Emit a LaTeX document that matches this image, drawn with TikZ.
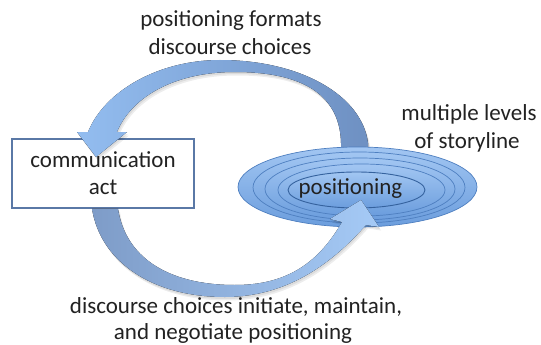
\documentclass[tikz,border=0pt]{standalone}
\usepackage{fontspec}
\setmainfont{Carlito}
\definecolor{boxline}{HTML}{5A78A6}
\definecolor{ringtop}{HTML}{A2C6F2}
\definecolor{ringbot}{HTML}{6B9DDD}
\definecolor{ringline}{HTML}{4E7FC0}
\definecolor{innerline}{HTML}{35629E}
\definecolor{txt}{HTML}{222222}
\definecolor{tarL}{HTML}{93BDF0}
\definecolor{tarM}{HTML}{5C8FD2}
\definecolor{tarR}{HTML}{6E90C2}
\definecolor{barL}{HTML}{7E9CC8}
\definecolor{barM}{HTML}{5A8BD0}
\definecolor{barR}{HTML}{A5CAF6}
\def\TopArrowPath{(369,168) -- (368,143) .. controls (362,95) and (300,60) .. (220,60) .. controls (160,60) and (105,90) .. (88,132) -- (77,132) -- (96,157) -- (127,132) -- (117,132) .. controls (130,100) and (170,72) .. (235,72) .. controls (310,72) and (340,100) .. (341,143) -- (341,168) -- cycle}
\def\BottomArrowPath{(92,208.6) .. controls (100,260) and (150,297) .. (225,297) .. controls (290,297) and (335,260) .. (366,225) -- (379,227) -- (361,200) -- (330,219) -- (342,222) .. controls (320,260) and (290,285) .. (235,285) .. controls (165,285) and (125,255) .. (118,208.6) -- cycle}
\begin{document}
\begin{tikzpicture}[x=1pt,y=-1pt,
  lbl/.style={font=\fontsize{23}{28}\selectfont, text=txt, anchor=base, inner sep=0pt},
  actbox/.style={draw=boxline, line width=1.1pt, fill=white, minimum width=182pt, minimum height=69pt, inner sep=0pt, align=center, font=\fontsize{23}{27}\selectfont, text=txt},
  ring/.style={draw=ringline, line width=0.7pt, top color=ringtop, bottom color=ringbot},
  shadowfill/.style={fill=black, opacity=0.07},
  toparrow/.style={left color=tarL, middle color=tarM, right color=tarR},
  bottomarrow/.style={left color=barL, middle color=barM, right color=barR},
]
\useasboundingbox (0,0) rectangle (541,345);
\fill[white] (0,0) rectangle (541,345);
% communication act box
\node[actbox] (act) at (103,173.5) {communication\\act};
% top arrow
\fill[shadowfill, xshift=1pt, yshift=-2pt] \TopArrowPath;
\fill[shadowfill, xshift=2pt, yshift=-3.5pt] \TopArrowPath;
\fill[toparrow] \TopArrowPath;
% positioning rings
\path[ring] (357.5,187) ellipse [x radius=119.5, y radius=40];
\path[ring] (359,187.5) ellipse [x radius=106, y radius=35.5];
\path[ring] (360,189) ellipse [x radius=95, y radius=31];
\path[ring] (361.5,190) ellipse [x radius=83.5, y radius=26];
\path[ring, draw=innerline, line width=0.9pt] (356.5,190) ellipse [x radius=68.5, y radius=18];
% bottom arrow
\fill[shadowfill, xshift=1pt, yshift=-2pt] \BottomArrowPath;
\fill[shadowfill, xshift=2pt, yshift=-3.5pt] \BottomArrowPath;
\fill[bottomarrow] \BottomArrowPath;
% labels
\node[lbl] (pos) at (350.5,194) {positioning};
\node[lbl] (t1) at (231,27) {positioning formats};
\node[lbl] (t2) at (230,55) {discourse choices};
\node[lbl] (m1) at (469,120) {multiple levels};
\node[lbl] (m2) at (467,148) {of storyline};
\node[lbl] (b1) at (236,313) {discourse choices initiate, maintain,};
\node[lbl] (b2) at (233,339) {and negotiate positioning};
\end{tikzpicture}
\end{document}
